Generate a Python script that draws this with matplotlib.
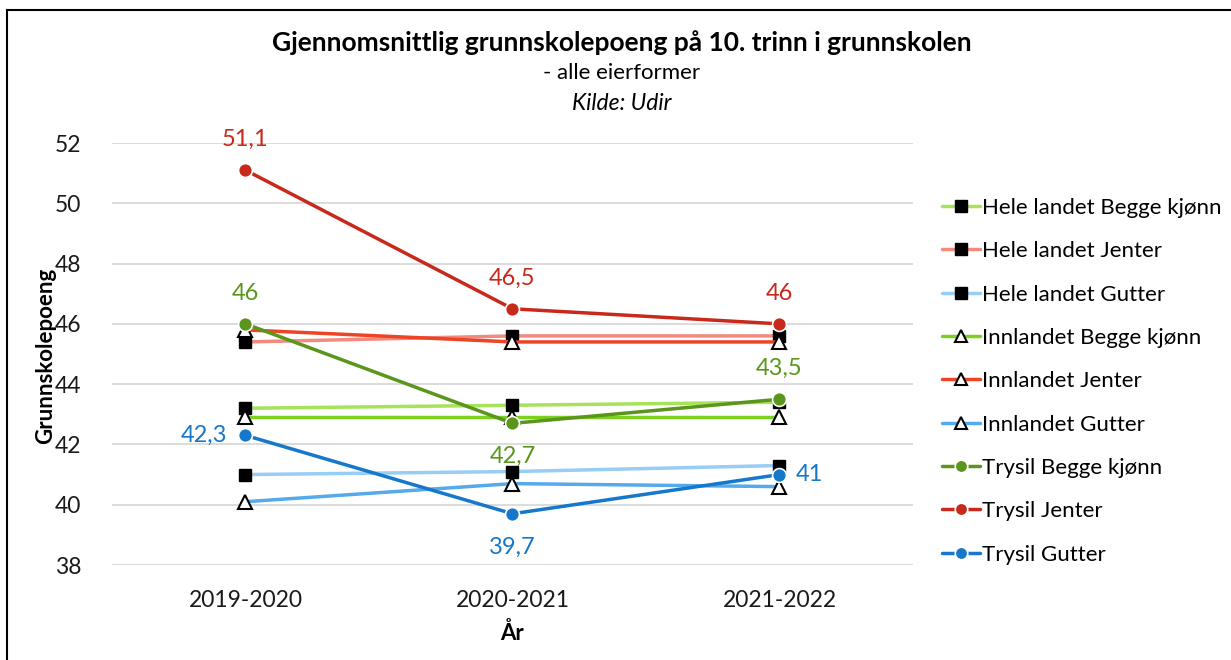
import matplotlib

matplotlib.use("Agg")
import matplotlib.pyplot as plt
from matplotlib.lines import Line2D

plt.rcParams["font.family"] = ["Lato", "DejaVu Sans"]

years = ["2019-2020", "2020-2021", "2021-2022"]

hele_begge = [43.2, 43.3, 43.4]
hele_jenter = [45.4, 45.6, 45.6]
hele_gutter = [41.0, 41.1, 41.3]
inn_begge = [42.9, 42.9, 42.9]
inn_jenter = [45.8, 45.4, 45.4]
inn_gutter = [40.1, 40.7, 40.6]
trysil_begge = [46.0, 42.7, 43.5]
trysil_jenter = [51.1, 46.5, 46.0]
trysil_gutter = [42.3, 39.7, 41.0]

series = [
    ("Hele landet Begge kjønn", hele_begge, "#A6E35A", "square"),
    ("Hele landet Jenter", hele_jenter, "#F28B7E", "square"),
    ("Hele landet Gutter", hele_gutter, "#98CDF6", "square"),
    ("Innlandet Begge kjønn", inn_begge, "#7CD11E", "triangle"),
    ("Innlandet Jenter", inn_jenter, "#EE4426", "triangle"),
    ("Innlandet Gutter", inn_gutter, "#55AAEC", "triangle"),
    ("Trysil Begge kjønn", trysil_begge, "#5A961C", "circle"),
    ("Trysil Jenter", trysil_jenter, "#C8291B", "circle"),
    ("Trysil Gutter", trysil_gutter, "#1578CA", "circle"),
]

W, H = 1231, 660
fig = plt.figure(figsize=(W / 100, H / 100), dpi=100)
ax = fig.add_axes([112 / W, (H - 565) / H, (913 - 112) / W, (565 - 143) / H])

x = list(range(len(years)))
for label, vals, color, kind in series:
    if kind == "square":
        style = dict(marker="s", markersize=9, markerfacecolor="black",
                     markeredgecolor="black")
    elif kind == "triangle":
        style = dict(marker="^", markersize=10, markerfacecolor="white",
                     markeredgecolor="black", markeredgewidth=1.5)
    else:
        style = dict(marker="o", markersize=10, markerfacecolor=color,
                     markeredgecolor="white", markeredgewidth=1.2)
    ax.plot(x, vals, color=color, linewidth=2.5, label=label,
            solid_capstyle="round", **style)

# data labels, Trysil only
def lab(i, vals, color, where):
    off = {"above": (0, 22), "below": (0, -24), "left": (-13, 0), "right": (12, 0)}[where]
    ha = {"above": "center", "below": "center", "left": "right", "right": "left"}[where]
    txt = f"{vals[i]:g}".replace(".", ",")
    ax.annotate(txt, (i, vals[i]), xytext=off, textcoords="offset points",
                ha=ha, va="center", color=color, fontsize=17)

for i in range(3):
    lab(i, trysil_jenter, "#C8291B", "above")
lab(0, trysil_begge, "#5A961C", "above")
lab(1, trysil_begge, "#5A961C", "below")
lab(2, trysil_begge, "#5A961C", "above")
lab(0, trysil_gutter, "#1578CA", "left")
lab(1, trysil_gutter, "#1578CA", "below")
lab(2, trysil_gutter, "#1578CA", "right")

ax.set_xlim(-0.5, 2.5)
ax.set_ylim(38, 52)
ax.set_yticks(range(38, 53, 2))
ax.set_xticks(x)
ax.set_xticklabels(years)
ax.tick_params(axis="both", length=0, labelsize=16.5, colors="#1a1a1a")
ax.tick_params(axis="x", pad=18)
ax.tick_params(axis="y", pad=22)
ax.grid(axis="y", color="#D9D9D9", linewidth=1.3)
ax.set_axisbelow(True)
for s in ax.spines.values():
    s.set_visible(False)

ax.set_xlabel("År", fontsize=16, fontweight="bold", labelpad=8)
# y label placed by hand so it sits just left of the tick numbers
fig.text(46 / W, 1 - 356 / H, "Grunnskolepoeng", rotation=90, ha="center", va="center",
         fontsize=16, fontweight="bold")

fig.text(622 / W, 1 - 43 / H, "Gjennomsnittlig grunnskolepoeng på 10. trinn i grunnskolen",
         ha="center", va="center", fontsize=19, fontweight="bold")
fig.text(622 / W, 1 - 73 / H, "- alle eierformer", ha="center", va="center", fontsize=16)
fig.text(622 / W, 1 - 103 / H, "Kilde: Udir", ha="center", va="center", fontsize=16.5,
         fontstyle="italic")

fig.legend(loc="upper left", bbox_to_anchor=(933 / W, 1 - 189 / H), frameon=False,
           fontsize=16, handlelength=1.7, handletextpad=0.12, labelspacing=1.05,
           borderaxespad=0, markerscale=0.9)

# frame: only the left and top edges show in the reference
fig.lines.append(Line2D([7 / W, 7 / W], [0, 1 - 10 / H], transform=fig.transFigure,
                        color="black", linewidth=1.5))
fig.lines.append(Line2D([7 / W, 1], [1 - 10 / H, 1 - 10 / H], transform=fig.transFigure,
                        color="black", linewidth=1.5))

fig.savefig("out.png", dpi=100)
plt.close(fig)
